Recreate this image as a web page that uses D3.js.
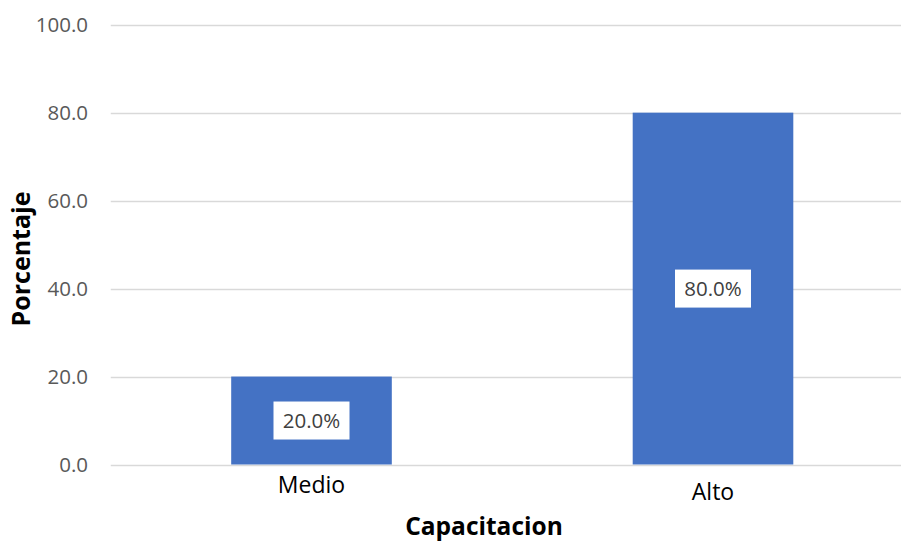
<!DOCTYPE html>
<html>
<head>
<meta charset="utf-8">
<script src="https://cdn.jsdelivr.net/npm/d3@7"></script>
<style>
  html, body { margin: 0; padding: 0; background: #fff; }
  svg { display: block; font-family: "Open Sans", Lato, sans-serif; }
</style>
</head>
<body>
<svg id="chart" width="901" height="542"></svg>
<script>
// Capacitacion levels and their share (%)
const categories = ["Medio", "Alto"];
const values = [20.0, 80.0];
const yTicks = [0, 20, 40, 60, 80, 100];

const svg = d3.select("#chart");
const plotLeft = 110.75, plotRight = 913.75, plotTop = 24.7, plotBottom = 464.5;

const x = d3.scaleBand()
  .domain(categories)
  .range([plotLeft, plotRight])
  .paddingInner(0.6)
  .paddingOuter(0.3);

const y = d3.scaleLinear().domain([0, 100]).range([plotBottom, plotTop]);

// horizontal gridlines
svg.append("g")
  .selectAll("line")
  .data(yTicks)
  .join("line")
  .attr("x1", plotLeft)
  .attr("x2", 901)
  .attr("y1", d => Math.round(y(d)) + 0.5)
  .attr("y2", d => Math.round(y(d)) + 0.5)
  .attr("stroke", "#d9d9d9")
  .attr("stroke-width", 1.5);

// y tick labels
svg.append("g")
  .selectAll("text")
  .data(yTicks)
  .join("text")
  .attr("x", 88)
  .attr("y", d => y(d))
  .attr("dy", "0.36em")
  .attr("text-anchor", "end")
  .attr("font-size", 20.5)
  .attr("fill", "#595959")
  .text(d => d3.format(".1f")(d));

// bars
svg.append("g")
  .selectAll("rect")
  .data(values)
  .join("rect")
  .attr("x", (d, i) => x(categories[i]))
  .attr("width", x.bandwidth())
  .attr("y", d => y(d))
  .attr("height", d => y(0) - y(d))
  .attr("fill", "#4472c4");

// value labels in white boxes, centred in each bar
const lab = svg.append("g")
  .selectAll("g")
  .data(values)
  .join("g")
  .attr("transform", (d, i) =>
    `translate(${x(categories[i]) + x.bandwidth() / 2},${(y(d) + y(0)) / 2})`);
lab.append("rect")
  .attr("x", -38).attr("y", -19)
  .attr("width", 76).attr("height", 38)
  .attr("fill", "#fff");
lab.append("text")
  .attr("text-anchor", "middle")
  .attr("dy", "0.36em")
  .attr("font-size", 20.5)
  .attr("fill", "#404040")
  .text(d => d3.format(".1f")(d) + "%");

// category labels
svg.append("g")
  .selectAll("text")
  .data(categories)
  .join("text")
  .attr("x", d => x(d) + x.bandwidth() / 2)
  .attr("y", (d, i) => i === 0 ? 493 : 500)
  .attr("text-anchor", "middle")
  .attr("font-size", 23)
  .attr("fill", "#000")
  .text(d => d);

// axis titles
svg.append("text")
  .attr("x", 484)
  .attr("y", 535)
  .attr("text-anchor", "middle")
  .attr("font-size", 24.5)
  .attr("font-weight", "bold")
  .attr("fill", "#000")
  .text("Capacitacion");

svg.append("text")
  .attr("transform", "translate(30,259) rotate(-90)")
  .attr("text-anchor", "middle")
  .attr("font-size", 25)
  .attr("font-weight", "bold")
  .attr("fill", "#000")
  .text("Porcentaje");
</script>
</body>
</html>
